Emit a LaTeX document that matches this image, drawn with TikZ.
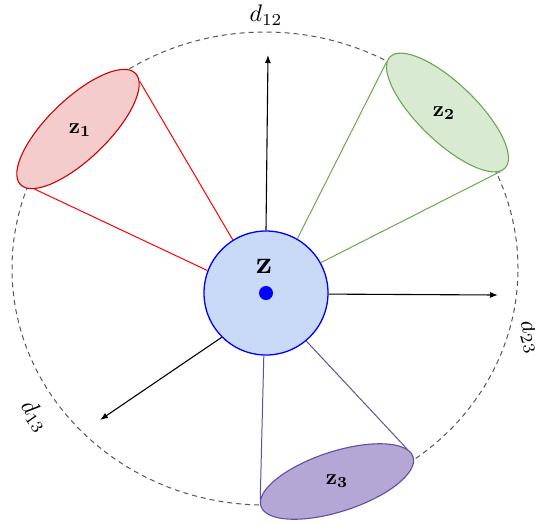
\documentclass[tikz,border=0pt]{standalone}
\usetikzlibrary{shapes.geometric,arrows.meta}
\definecolor{redfill}{HTML}{F4CCCC}
\definecolor{redstroke}{HTML}{CC0000}
\definecolor{redline}{HTML}{FF0000}
\definecolor{greenfill}{HTML}{D9EAD3}
\definecolor{greenstroke}{HTML}{6AA84F}
\definecolor{purplefill}{HTML}{B4A7D6}
\definecolor{purplestroke}{HTML}{5F4FA0}
\definecolor{bluefill}{HTML}{C9DAF8}
\definecolor{bluestroke}{HTML}{0000FF}
\definecolor{dashgray}{HTML}{555555}
\tikzset{
  blob/.style={ellipse, minimum width=160pt, minimum height=60pt, inner sep=0pt, line width=1.1pt},
  arr/.style={line width=1.1pt, -{Latex[length=8pt,width=6pt]}},
  dlabel/.style={scale=2.4, inner sep=0pt},
  zlabel/.style={scale=2.2, inner sep=0pt},
  tang/.style={line width=1pt}
}
\begin{document}
\begin{tikzpicture}[x=1pt,y=-1pt]
\useasboundingbox (0,0) rectangle (535,523);
% dashed outer circle
\draw[dashgray, line width=1pt, dash pattern=on 5pt off 4pt] (265,268.5) ellipse [x radius=253pt, y radius=236.5pt];
% central node
\node[circle, draw=bluestroke, fill=bluefill, line width=1.3pt, minimum size=124pt, inner sep=0pt] (Z) at (266,293) {};
\node[scale=3.2, inner sep=0pt] (Zl) at (264,266) {$\mathbf{z}$};
\node[circle, fill=bluestroke, minimum size=14pt, inner sep=0pt] (Zc) at (266,293) {};
% ellipses
\node[blob, draw=redstroke, fill=redfill, rotate=44] (z1) at (78,129) {};
\node[zlabel] (z1l) at (80,130) {$\mathbf{z_1}$};
\node[blob, draw=greenstroke, fill=greenfill, rotate=-44, minimum height=58pt] (z2) at (447.5,112.5) {};
\node[zlabel] (z2l) at (444,113) {$\mathbf{z_2}$};
\node[blob, draw=purplestroke, fill=purplefill, rotate=18] (z3) at (337,481.5) {};
\node[zlabel] (z3l) at (337,481) {$\mathbf{z_3}$};
% tangent lines
\draw[tang, redline] (z1.-6) -- (Z.122);
\draw[tang, redline] (z1.190) -- (Z.159);
\draw[tang, greenstroke] (z2.184) -- (Z.60);
\draw[tang, greenstroke] (z2.-4) -- (Z.29);
\draw[tang, purplestroke] (z3.7.6) -- (Z.-50.6);
\draw[tang, purplestroke] (z3.175.5) -- (Z.-92.8);
% arrows
\coordinate (e12) at (268,55);
\coordinate (e23) at (498,295);
\coordinate (e13) at (100,420);
\draw[arr] (Z.90) -- (e12);
\draw[arr] (Z.-1) -- (e23);
\draw[arr] (Z.225.6) -- (e13);
% distance labels
\node[dlabel] (d12) at (266,15) {$d_{12}$};
\node[dlabel, rotate=-75] (d23) at (531,337) {$d_{23}$};
\node[dlabel, rotate=-55] (d13) at (35,416) {$d_{13}$};
\end{tikzpicture}
\end{document}
